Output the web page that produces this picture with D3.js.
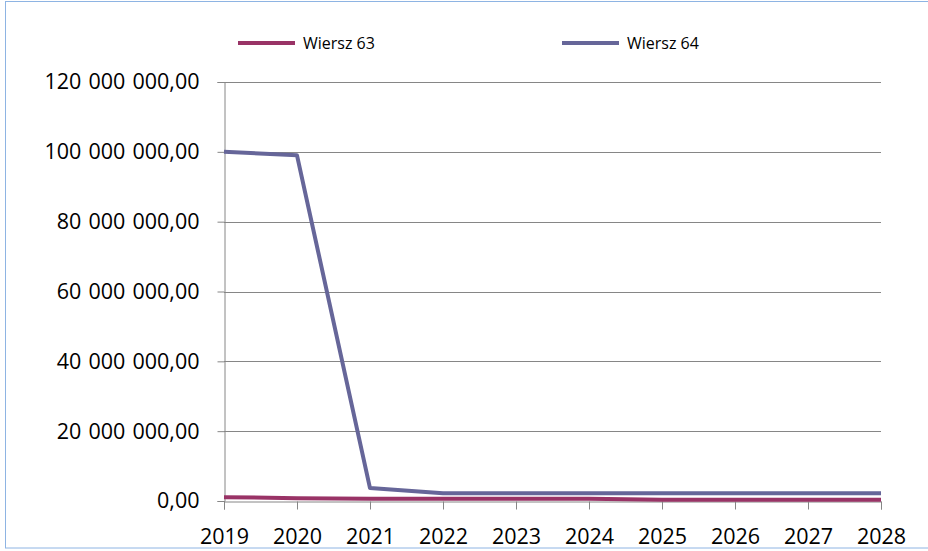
<!DOCTYPE html>
<html>
<head>
<meta charset="utf-8">
<script src="https://cdn.jsdelivr.net/npm/d3@7"></script>
<style>
  html, body { margin: 0; padding: 0; background: #fff; }
</style>
</head>
<body>
<div id="chart"></div>
<script>
  var years = ['2019', '2020', '2021', '2022', '2023', '2024', '2025', '2026', '2027', '2028'];
  var seriesNames = ['Wiersz 63', 'Wiersz 64'];
  var wiersz63 = [1100000, 800000, 650000, 650000, 650000, 650000, 380000, 380000, 380000, 380000];
  var wiersz64 = [100000000, 99000000, 3700000, 2200000, 2200000, 2200000, 2200000, 2200000, 2200000, 2200000];
  var yTicks = [0, 20000000, 40000000, 60000000, 80000000, 100000000, 120000000];
  var colors = ['#993366', '#666699'];

  var width = 928, height = 551;
  var margin = { top: 82, right: 47, bottom: 50, left: 224 };
  var innerW = width - margin.left - margin.right;
  var innerH = height - margin.top - margin.bottom;

  var svg = d3.select('#chart').append('svg')
      .attr('width', width)
      .attr('height', height);

  // outer chart border
  svg.append('rect')
      .attr('x', 5.5)
      .attr('y', 1.5)
      .attr('width', 930)
      .attr('height', 546.5)
      .style('fill', 'none')
      .style('stroke', '#8eb4e3');

  var x = d3.scalePoint()
      .domain(years)
      .range([0, innerW]);

  var y = d3.scaleLinear()
      .domain([0, 120000000])
      .range([innerH, 0]);

  var fmt = function (d) {
    var s = d3.format(',.2f')(d);
    return s.replace(/,/g, ' ').replace('.', ',');
  };

  var g = svg.append('g')
      .attr('transform', 'translate(' + margin.left + ',' + margin.top + ')');

  // horizontal gridlines
  g.append('g').selectAll('line')
      .data(yTicks.slice(1))
    .enter().append('line')
      .attr('x1', 0)
      .attr('x2', innerW)
      .attr('y1', function (d) { return Math.round(y(d)) + 0.5; })
      .attr('y2', function (d) { return Math.round(y(d)) + 0.5; })
      .style('stroke', '#868686');

  var yAxis = g.append('g')
      .attr('transform', 'translate(0.5,0)')
      .call(d3.axisLeft(y).tickValues(yTicks).tickFormat(fmt).tickSize(7).tickPadding(18));

  yAxis.select('.domain').style('stroke', '#868686');
  yAxis.selectAll('.tick line').style('stroke', '#868686');
  yAxis.selectAll('.tick text')
      .style('font-family', '"Open Sans", sans-serif')
      .style('font-size', '21.5px')
      .style('word-spacing', '1.5px')
      .style('fill', '#000');

  var xAxis = g.append('g')
      .attr('transform', 'translate(0,' + (innerH + 0.5) + ')')
      .call(d3.axisBottom(x).tickSize(8).tickPadding(19));

  xAxis.select('.domain').style('stroke', '#868686');
  xAxis.selectAll('.tick line').style('stroke', '#868686');
  xAxis.selectAll('.tick text')
      .style('font-family', '"Open Sans", sans-serif')
      .style('font-size', '21.5px')
      .style('fill', '#000');

  var line = d3.line()
      .x(function (d, i) { return x(years[i]); })
      .y(function (d) { return y(d); });

  [wiersz63, wiersz64].forEach(function (values, i) {
    g.append('path')
        .datum(values)
        .attr('d', line)
        .style('fill', 'none')
        .style('stroke', colors[i])
        .style('stroke-width', 4)
        .style('stroke-linejoin', 'round');
  });

  // legend
  var legendX = [238, 562];
  var legend = svg.append('g').selectAll('g')
      .data(seriesNames)
    .enter().append('g')
      .attr('transform', function (d, i) { return 'translate(' + legendX[i] + ',43)'; });

  legend.append('line')
      .attr('x1', 0)
      .attr('x2', 57)
      .style('stroke', function (d, i) { return colors[i]; })
      .style('stroke-width', 4);

  legend.append('text')
      .attr('x', 65)
      .attr('dy', '0.35em')
      .style('font-family', '"Open Sans", sans-serif')
      .style('font-size', '16px')
      .style('fill', '#000')
      .text(function (d) { return d; });
</script>
</body>
</html>
